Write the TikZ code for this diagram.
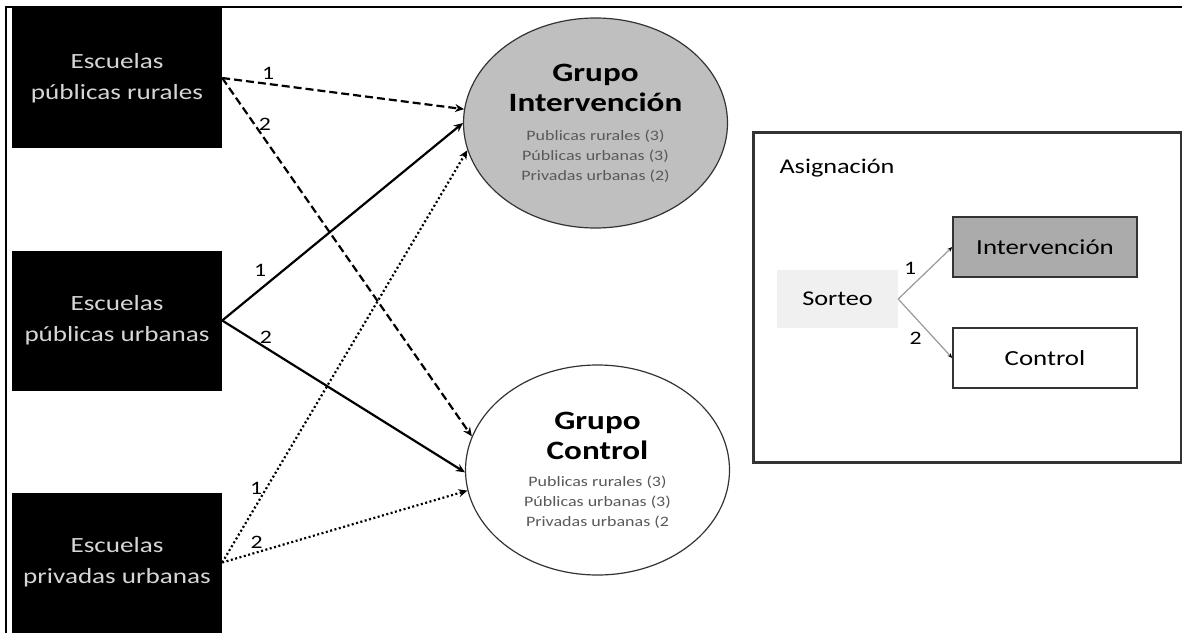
\documentclass[tikz,border=0pt]{standalone}
\usepackage{fontspec}
\setmainfont{Carlito}[FakeStretch=1.25]
\usetikzlibrary{shapes.geometric,arrows.meta}
\definecolor{textoclaro}{HTML}{D6D6D6}
\definecolor{textogris}{HTML}{595959}
\definecolor{grisgrupo}{HTML}{BFBFBF}
\definecolor{grisint}{HTML}{ABABAB}
\definecolor{grissorteo}{HTML}{F0F0F0}
\newcommand{\detalle}{\fontsize{14.4}{20}\selectfont\mdseries\color{textogris}}
\begin{document}
\begin{tikzpicture}[x=1pt,y=-1pt,
        escuela/.style={fill=black,text=textoclaro,minimum width=210pt,minimum height=140pt,
            inner sep=0pt,align=center,font=\fontsize{21.7}{31}\selectfont},
        grupo/.style={ellipse,draw=black!80,line width=1.2pt,minimum width=264pt,minimum height=210pt,
            inner sep=0pt,align=center,font=\fontsize{26.5}{30}\selectfont\bfseries},
        flecha/.style={line width=2.2pt,-{Stealth[length=9pt,width=8pt]}},
        raya/.style={flecha,dash pattern=on 8pt off 4pt},
        punto/.style={flecha,dash pattern=on 2pt off 2.5pt},
        num/.style={font=\fontsize{19}{20}\selectfont,inner sep=3pt},
        caja/.style={draw=black!80,line width=1.5pt,minimum width=184pt,minimum height=60pt,
            font=\fontsize{21.5}{22}\selectfont},
        rama/.style={draw=black!40,line width=1.2pt,-{Stealth[length=5pt,width=4pt,black]}}]
    \useasboundingbox (0,0) rectangle (1182,632);
    % marco
    \draw[line width=2.4pt] (6,640) -- (6,7) -- (1190,7);

    % escuelas
    \node[escuela] (rur) at (117,78) {Escuelas\\públicas rurales};
    \node[escuela] (urb) at (117,320.5) {Escuelas\\públicas urbanas};
    \node[escuela] (pri) at (117,562.5) {Escuelas\\privadas urbanas};

    % grupos
    \node[grupo,fill=grisgrupo] (gint) at (595.5,123) {Grupo\\Intervención\\[-1pt]
        {\detalle Publicas rurales (3)}\\[-10pt]{\detalle Públicas urbanas (3)}\\[-10pt]{\detalle Privadas urbanas (2)}};
    \node[grupo,fill=white] (gcon) at (597.5,470) {Grupo\\Control\\[-3pt]
        {\detalle Publicas rurales (3)}\\[-10pt]{\detalle Públicas urbanas (3)}\\[-10pt]{\detalle Privadas urbanas (2}};

    % flechas
    \draw[raya] (rur.east) -- node[num,pos=0.19,above] {1} (gint.174);
    \draw[raya] (rur.east) -- node[num,pos=0.13,right] {2} (gcon.165);
    \draw[flecha] (urb.east) -- node[num,pos=0.2,above left] {1} (gint.180);
    \draw[flecha] (urb.east) -- node[num,pos=0.18,above] {2} (gcon.181);
    \draw[punto] (pri.east) -- node[num,pos=0.18,left] {1} (gint.192);
    \draw[punto] (pri.east) -- node[num,pos=0.14,above] {2} (gcon.189);

    % asignacion
    \node[draw=black!80,line width=3pt,minimum width=428pt,minimum height=330pt] (asig) at (967,297) {};
    \node[font=\fontsize{21}{22}\selectfont,anchor=west] (titulo) at (776,168) {Asignación};
    \node[fill=grissorteo,minimum width=121pt,minimum height=58pt,font=\fontsize{21}{22}\selectfont] (sorteo) at (837.5,299) {Sorteo};
    \node[caja,fill=grisint] (cint) at (1045,247) {Intervención};
    \node[caja,fill=white] (ccon) at (1045,358) {Control};
    \draw[rama] (sorteo.east) -- node[num,pos=0.4,above left] {1} (cint.west);
    \draw[rama] (sorteo.east) -- node[num,pos=0.5,below left] {2} (ccon.west);
\end{tikzpicture}
\end{document}
